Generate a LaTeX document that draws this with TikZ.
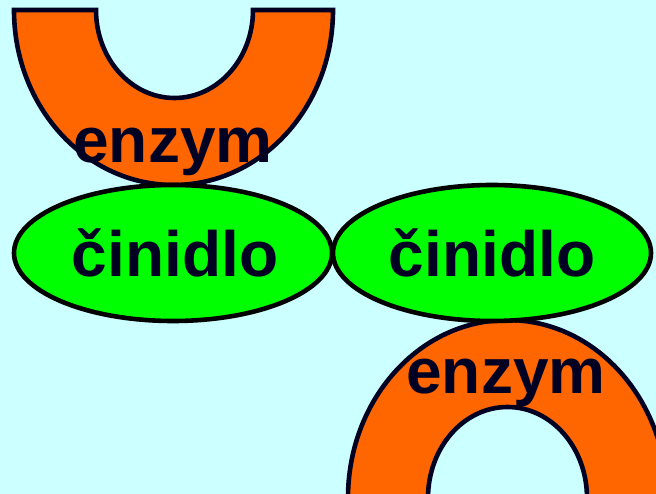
\documentclass[tikz,border=0pt]{standalone}
\usepackage{fontspec}
\setmainfont{Liberation Sans}
\usetikzlibrary{shapes.geometric}
\definecolor{bg}{HTML}{CCFFFF}
\definecolor{enz}{HTML}{FF6600}
\definecolor{rea}{HTML}{00FF00}
\definecolor{ink}{HTML}{000022}
\tikzset{
  shapeline/.style={draw=ink, line width=4.6pt},
  enzymefill/.style={shapeline, fill=enz},
  reagent/.style={shapeline, draw=black, fill=rea},
  lbl/.style={anchor=base, inner sep=0pt, text=ink, font=\fontsize{64}{64}\selectfont\bfseries}
}
\begin{document}
\begin{tikzpicture}[x=1pt,y=-1pt]
\useasboundingbox (0,0) rectangle (656,494);
\fill[bg] (0,0) rectangle (656,494);
\begin{scope}
\clip (0,0) rectangle (656,494);
% top enzyme (U shape)
\draw[enzymefill] (14,10) -- (96,10)
  arc[start angle=180, end angle=0, x radius=78.5, y radius=88]
  -- (333,10)
  arc[start angle=0, end angle=180, x radius=159.5, y radius=175] -- cycle;
% bottom enzyme (arch)
\draw[enzymefill] (348,498)
  arc[start angle=180, end angle=360, x radius=159.5, y radius=178]
  -- (587,498)
  arc[start angle=0, end angle=-180, x radius=79.5, y radius=91] -- cycle;
\end{scope}
% reagents
\draw[reagent] (173,253) ellipse[x radius=159, y radius=68];
\draw[reagent] (492,253) ellipse[x radius=159, y radius=68];
% labels
\node[lbl] (e1) at (173,163) {enzym};
\node[lbl] (e2) at (506,393) {enzym};
\node[lbl] (c1) at (175,277) {činidlo};
\node[lbl] (c2) at (492,277) {činidlo};
\end{tikzpicture}
\end{document}
